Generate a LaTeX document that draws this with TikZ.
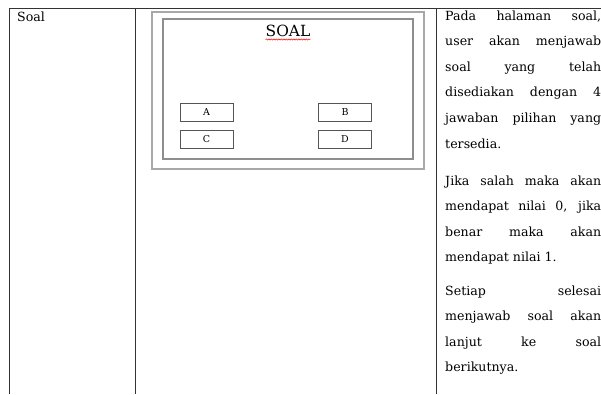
\documentclass[tikz,border=0pt]{standalone}
\usepackage{fontspec}
\setmainfont{DejaVu Serif}
\usepackage{tikz}
\usetikzlibrary{decorations.pathmorphing}
\definecolor{ruleline}{HTML}{333333}
\definecolor{outerframe}{HTML}{A8A8A8}
\definecolor{innerframe}{HTML}{8E8E8E}
\definecolor{btnline}{HTML}{555555}
\definecolor{bodytext}{HTML}{000000}

\begin{document}
\begin{tikzpicture}[x=1pt, y=-1pt,
  btn/.style={draw=btnline, line width=1pt, minimum width=53pt, minimum height=18pt, inner sep=0pt, text=bodytext, font=\fontsize{9.5}{11}\selectfont},
  para/.style={anchor=base west, inner sep=0pt, text width=156pt, align=justify, text=bodytext, font=\fontsize{12.6}{25.6}\selectfont}]
  \useasboundingbox (0,0) rectangle (601,394);
  \draw[ruleline, line width=1pt] (9.5,394) -- (9.5,8) -- (601,8);
  \draw[ruleline, line width=1pt] (135,8) -- (135,394);
  \draw[ruleline, line width=1pt] (436,8) -- (436,394);
  \node[anchor=base west, inner sep=0pt, text=bodytext, font=\fontsize{12.6}{15}\selectfont] (cell) at (17,21) {Soal};
  \draw[outerframe, line width=2pt] (152,12) rectangle (424,169);
  \draw[innerframe, line width=1.5pt] (163,19) rectangle (413,159);
  \node[anchor=base, inner sep=0pt, text=bodytext, font=\fontsize{15.4}{18}\selectfont] (title) at (288,36.5) {SOAL};
  \draw[red, line width=0.5pt, decorate, decoration={snake, amplitude=0.6pt, segment length=2.5pt}]
    ([yshift=-3pt]title.base west) -- ([yshift=-3pt]title.base east);
  \node[btn] (a) at (206.5,112) {A};
  \node[btn] (b) at (345,112) {B};
  \node[btn] (c) at (206.5,139) {C};
  \node[btn] (d) at (345,139) {D};
  \node[para] (p1) at (445,20) {Pada halaman soal,\linebreak user akan menjawab\linebreak soal yang telah\linebreak disediakan dengan 4\linebreak jawaban pilihan yang\linebreak tersedia.};
  \node[para] (p2) at (445,185) {Jika salah maka akan\linebreak mendapat nilai 0, jika\linebreak benar maka akan\linebreak mendapat nilai 1.};
  \node[para] (p3) at (445,295) {Setiap selesai\linebreak menjawab soal akan\linebreak lanjut ke soal\linebreak berikutnya.};
\end{tikzpicture}
\end{document}
